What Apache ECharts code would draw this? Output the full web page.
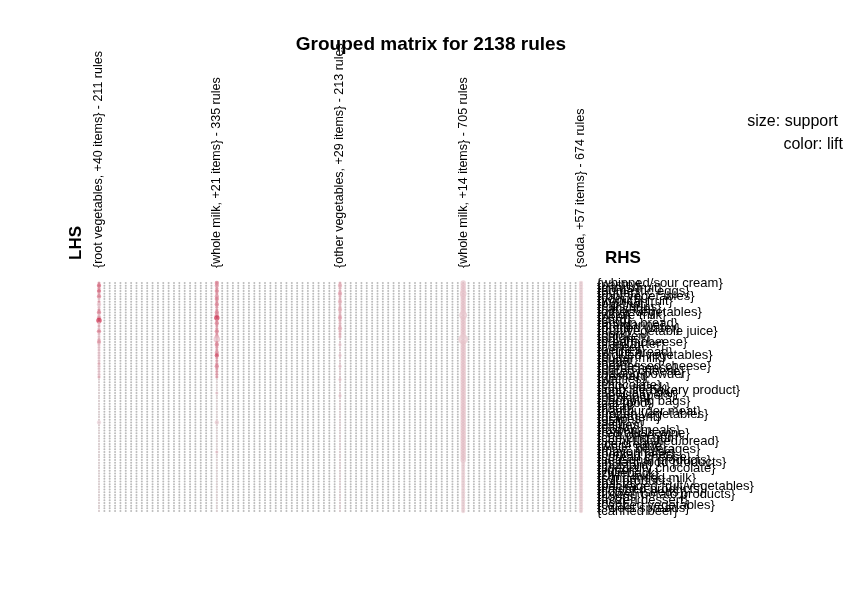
<!DOCTYPE html>
<html>
<head>
<meta charset="utf-8">
<script src="https://cdn.jsdelivr.net/npm/echarts@6/dist/echarts.min.js"></script>
<style>
html, body { margin: 0; padding: 0; background: #fff; }
#grouped { width: 862px; height: 589px; }
</style>
</head>
<body>
<div id="grouped"></div>
<script>
/*****Data start*****/

var columnCount = 91; // LHS groups
var lhsLabels = [
	'{root vegetables, +40 items} - 211 rules',
	'{whole milk, +21 items} - 335 rules',
	'{other vegetables, +29 items} - 213 rules',
	'{whole milk, +14 items} - 705 rules',
	'{soda, +57 items} - 674 rules'
];
var lhsLabelCols = [0, 22, 45, 68, 90];

var rhsLabels = [
	'{whipped/sour cream}', '{pastry}', '{citrus fruit}', '{domestic eggs}', '{butter}',
	'{root vegetables}', '{yogurt}', '{tropical fruit}', '{pip fruit}', '{rolls/buns}',
	'{sausage}', '{other vegetables}', '{whole milk}', '{beef}', '{curd}',
	'{brown bread}', '{margarine}', '{bottled water}', '{fruit/vegetable juice}', '{pork}',
	'{chicken}', '{onions}', '{cream cheese}', '{frankfurter}', '{coffee}',
	'{berries}', '{white bread}', '{pickled vegetables}', '{butter milk}', '{sugar}',
	'{ham}', '{processed cheese}', '{hard cheese}', '{sliced cheese}', '{baking powder}',
	'{dessert}', '{waffles}', '{oil}', '{chocolate}', '{salty snack}',
	'{long life bakery product}', '{specialty bar}', '{newspapers}', '{napkins}', '{shopping bags}',
	'{cat food}', '{meat}', '{flour}', '{hamburger meat}', '{frozen vegetables}',
	'{detergent}', '{grapes}', '{salt}', '{dishes}', '{candy}',
	'{frozen meals}', '{red/blush wine}', '{soft cheese}', '{chewing gum}', '{semi-finished bread}',
	'{ice cream}', '{white wine}', '{misc. beverages}', '{mayonnaise}', '{bottled beer}',
	'{spread cheese}', '{seasonal products}', '{instant food products}', '{mustard}', '{specialty chocolate}',
	'{liquor}', '{zwieback}', '{UHT-milk}', '{condensed milk}', '{roll products }',
	'{pasta}', '{packaged fruit/vegetables}', '{finished products}', '{flower (seeds)}', '{frozen potato products}',
	'{soups}', '{frozen dessert}', '{rice}', '{canned vegetables}', '{sweet spreads}',
	'{canned beer}'
];

// support (size) and lift (colour) per RHS row, one pair for each labelled LHS group
var suppRoot = [2,3,2,3,2,3,2,2,3,2, 2,3,2,3,4,2,2,2,3,2, 2,2,3,2,2,2,2,2,2,2, 2,2,2,2,2,2,1,1,1,1,
	1,1,1,1,1,1,1,1,1,1, 1,1,3,1,1,1,1,1,1,1, 1,1,1,1,1,1,1,1,1,1, 1,1,1,1,1,1,1,1,1,1, 1,1,1,1,1,1];
var liftRoot = [3,4,3,4,2.5,3.5,2,3,2,2, 3,3.5,2,3,5,2,2.5,2,3.5,2, 2,2.5,3,2,2,2,2,2,2,2, 2.5,2,2,2,2,2.5,1.5,1.5,1.5,1.5,
	1.5,1.5,1.5,1.5,1.5,1.5,1.5,1.5,1.5,1.5, 1.5,1.5,1.6,1.5,1.5,1.5,1.5,1.5,1.5,1.5, 1.5,1.5,1.5,1.5,1.5,1.5,1.5,1.5,1.5,1.5, 1.5,1.5,1.5,1.5,1.5,1.5,1.5,1.5,1.5,1.5, 1.5,1.5,1.5,1.5,1.5,1.5];

var suppMilk21 = [3,3,2,3,2,3,3,2,3,2, 2,3,3,4,2,3,2,2,3,2, 3,5,2,3,2,2,3,3,2,2, 2,3,2,2,2,2,1,1,1,1,
	1,2,1,1,1,1,1,1,1,1, 1,1,3,1,1,1,1,1,1,1, 1,1,1,2,1,1,1,1,1,1, 1,1,1,1,1,1,1,1,1,1, 1,1,1,1,1,1];
var liftMilk21 = [3.5,3,3,3.5,3,3,3.5,3,3.5,3, 3,3.5,3,5,3,3.5,3,3,3.5,3, 3,2,3,3.5,3,3,3,4.5,3,3, 3,3.5,3,3,3,3,1.5,1.5,1.5,1.5,
	1.5,2,1.5,1.5,1.5,1.5,1.5,1.5,1.5,1.5, 1.5,1.5,1.8,1.5,1.5,1.5,1.5,1.5,1.5,1.5, 1.5,1.5,1.5,2,1.5,1.5,1.5,1.5,1.5,1.5, 1.5,1.5,1.5,1.5,1.5,1.5,1.5,1.5,1.5,1.5, 1.5,1.5,1.5,1.5,1.5,1.5];

var suppVeg29 = [2,3,2,2,3,2,2,3,2,2, 3,2,2,3,2,2,2,3,2,2, 2,1,1,2,1,1,1,2,1,1, 1,2,1,1,1,1,2,1,1,1,
	1,1,2,1,1,1,1,1,1,1, 1,1,1,1,1,1,1,1,1,1, 1,1,1,1,1,1,1,1,1,1, 1,1,1,1,1,1,1,1,1,1, 1,1,1,1,1,1];
var liftVeg29 = [2.5,2.5,2.3,2.5,2.8,2.3,2.5,2.5,2.3,2.5, 2.5,2.3,2.5,2.8,2.5,2.3,2.5,2.5,2.3,2.5, 2.3,1.8,1.8,2,1.8,1.8,1.8,2,1.8,1.8,
	1.8,2,1.8,1.8,1.8,1.8,2,1.7,1.7,1.7, 1.7,1.7,2,1.7,1.7,1.7,1.7,1.6,1.6,1.6, 1.6,1.6,1.6,1.6,1.6,1.6,1.6,1.6,1.6,1.6,
	1.6,1.6,1.6,1.6,1.6,1.6,1.6,1.6,1.6,1.6, 1.6,1.6,1.6,1.6,1.6,1.6,1.6,1.6,1.6,1.6, 1.6,1.6,1.6,1.6,1.6,1.6];

var suppMilk14 = [4,4,4,4,5,4,4,4,4,4, 4,4,6,4,4,4,4,4,4,4, 4,8,4,4,4,4,4,4,4,4, 4,4,4,4,4,4,4,4,4,4,
	4,4,4,4,4,4,4,4,4,4, 4,4,4,4,4,4,4,4,4,4, 4,4,4,4,4,4,4,3,3,3, 3,3,3,3,3,3,3,3,3,3, 3,3,3,3,3,3];
var liftMilk14 = [1.9,1.9,1.9,1.9,1.9,1.9,1.9,1.9,1.9,1.9, 1.9,1.9,1.8,1.9,1.9,1.9,1.9,1.9,1.9,1.9, 1.9,1.7,1.9,1.9,1.9,1.9,1.9,1.9,1.9,1.9,
	1.9,1.9,1.9,1.9,1.9,1.9,1.9,1.9,1.9,1.9, 1.9,1.9,1.9,1.9,1.9,1.9,1.9,1.9,1.9,1.9, 1.9,1.9,1.9,1.9,1.9,1.9,1.9,1.9,1.9,1.9,
	1.9,1.9,1.9,1.9,1.9,1.9,1.9,1.7,1.7,1.7, 1.7,1.7,1.7,1.7,1.7,1.7,1.7,1.7,1.7,1.7, 1.7,1.7,1.7,1.7,1.7,1.7];

var suppSoda57 = [3,3,3,3,3,3,3,3,3,3, 3,3,3,3,3,3,3,3,3,3, 3,3,3,3,3,3,3,3,3,3, 3,3,3,3,3,3,3,3,3,3,
	3,3,3,3,3,3,3,3,3,3, 3,3,3,3,3,3,3,3,3,3, 3,3,3,3,3,3,3,3,3,3, 3,3,3,3,3,3,3,3,3,3, 3,3,3,3,3,3];
var liftSoda57 = [1.7,1.7,1.7,1.7,1.7,1.7,1.7,1.7,1.7,1.7, 1.7,1.7,1.7,1.7,1.7,1.7,1.7,1.7,1.7,1.7, 1.7,1.7,1.7,1.7,1.7,1.7,1.7,1.7,1.7,1.7,
	1.7,1.7,1.7,1.7,1.7,1.7,1.7,1.7,1.7,1.7, 1.7,1.7,1.7,1.7,1.7,1.7,1.7,1.7,1.7,1.7, 1.7,1.7,1.7,1.7,1.7,1.7,1.7,1.7,1.7,1.7,
	1.7,1.7,1.7,1.7,1.7,1.7,1.7,1.7,1.7,1.7, 1.7,1.7,1.7,1.7,1.7,1.7,1.7,1.7,1.7,1.7, 1.7,1.7,1.7,1.7,1.7,1.7];

/*****Data end*****/

var FONT = '"Liberation Sans", Arial, Helvetica, sans-serif';

var lhsCats = [];
for (var c = 0; c < columnCount; c++) {
	var k = lhsLabelCols.indexOf(c);
	lhsCats.push(k >= 0 ? lhsLabels[k] : 'g' + c);
}

// empty cells of the matrix
var emptyCells = [];
for (var i = 0; i < columnCount; i++) {
	for (var j = 0; j < rhsLabels.length; j++) {
		emptyCells.push([i, j]);
	}
}

var suppCols = [suppRoot, suppMilk21, suppVeg29, suppMilk14, suppSoda57];
var liftCols = [liftRoot, liftMilk21, liftVeg29, liftMilk14, liftSoda57];
var ruleCells = [];
for (var g = 0; g < lhsLabelCols.length; g++) {
	for (var r = 0; r < rhsLabels.length; r++) {
		if (suppCols[g][r] > 0) {
			ruleCells.push([lhsLabelCols[g], r, suppCols[g][r], liftCols[g][r]]);
		}
	}
}

var myChart = echarts.init(document.getElementById('grouped'));
myChart.setOption({
	backgroundColor: '#fff',
	animation: false,
	textStyle: { fontFamily: FONT },
	title: {
		text: 'Grouped matrix for 2138 rules',
		left: 'center',
		top: 30,
		textStyle: { fontFamily: FONT, fontSize: 19, fontWeight: 'bold', color: '#000' }
	},
	grid: { left: 99, right: 281, top: 283, bottom: 78 },
	xAxis: {
		type: 'category',
		data: lhsCats,
		position: 'top',
		boundaryGap: false,
		axisLine: { show: false },
		axisTick: { show: false },
		splitLine: { show: false },
		axisLabel: {
			interval: 0,
			rotate: -90,
			margin: 15,
			fontFamily: FONT,
			fontSize: 12.5,
			color: '#000',
			padding: [5, 0, 0, 0],
			formatter: function (v) { return v.charAt(0) === '{' ? v : ''; }
		}
	},
	yAxis: {
		type: 'category',
		data: rhsLabels,
		inverse: true,
		position: 'right',
		boundaryGap: false,
		axisLine: { show: false },
		axisTick: { show: false },
		splitLine: { show: false },
		axisLabel: { interval: 0, margin: 16, fontFamily: FONT, fontSize: 13, color: '#000' }
	},
	visualMap: [
		{ show: false, seriesIndex: 1, dimension: 2, min: 1, max: 8, inRange: { symbolSize: [2, 10] } },
		{ show: false, seriesIndex: 1, dimension: 3, min: 1, max: 5, inRange: { color: ['#eeeeee', '#cc2244'] } }
	],
	series: [
		{
			type: 'scatter',
			data: emptyCells,
			symbolSize: 2,
			silent: true,
			itemStyle: { color: '#aaaaaa' }
		},
		{
			type: 'scatter',
			data: ruleCells,
			silent: true,
			itemStyle: { opacity: 0.7 }
		}
	],
	graphic: [
		{ type: 'text', x: 76, y: 243, rotation: Math.PI / 2,
			style: { text: 'LHS', fontFamily: FONT, fontSize: 17, fontWeight: 'bold', fill: '#000', align: 'center', verticalAlign: 'middle' } },
		{ type: 'text', x: 605, y: 258,
			style: { text: 'RHS', fontFamily: FONT, fontSize: 17, fontWeight: 'bold', fill: '#000', align: 'left', verticalAlign: 'middle' } },
		{ type: 'text', x: 838, y: 122,
			style: { text: 'size: support', fontFamily: FONT, fontSize: 16, fill: '#000', align: 'right', verticalAlign: 'middle' } },
		{ type: 'text', x: 843, y: 145,
			style: { text: 'color: lift', fontFamily: FONT, fontSize: 16, fill: '#000', align: 'right', verticalAlign: 'middle' } }
	]
});
</script>
</body>
</html>
